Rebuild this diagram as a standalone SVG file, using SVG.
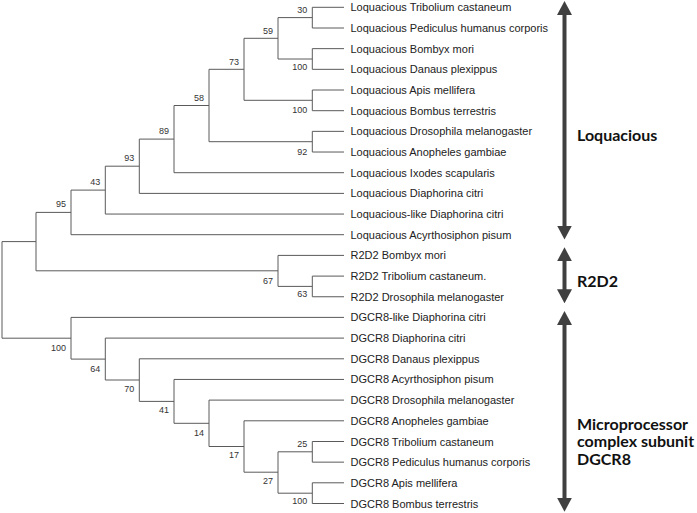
<svg xmlns="http://www.w3.org/2000/svg" width="697" height="513" viewBox="0 0 697 513">
<defs>
<style>
.br{fill:none;stroke:#5a5a5a;stroke-width:1}
.leaf{font-family:"Liberation Sans",Arial,sans-serif;font-size:11px;fill:#222}
.bs{font-family:"Liberation Sans",Arial,sans-serif;font-size:9px;fill:#333;text-anchor:end}
.grp{font-family:Lato,"Open Sans",sans-serif;font-size:16px;font-weight:bold;fill:#111}
.arr{stroke:#404040;stroke-width:4;fill:none}
</style>
<marker id="ah" viewBox="0 0 14 15" markerUnits="userSpaceOnUse" markerWidth="14" markerHeight="15" refX="6" refY="7.5" orient="auto-start-reverse">
<path d="M0,0 L14,7.5 L0,15 z" fill="#404040"/>
</marker>
</defs>
<rect width="697" height="513" fill="#fff"/>
<g id="connectors">
<path class="br" d="M2 241.6 V338.2 M2 241.6 H36 M36 212.4 V270.8
M36 212.4 H71 M71 190.1 V234.7 M71 234.7 H344
M71 190.1 H105.3 M105.3 166.2 V214.05 M105.3 214.05 H344
M105.3 166.2 H139.3 M139.3 139.1 V193.4 M139.3 193.4 H344
M139.3 139.1 H174 M174 105.5 V172.7 M174 172.7 H344
M174 105.5 H209 M209 69.3 V141.7
M209 141.7 H312.3 M312.3 131.35 V152.03 M312.3 131.35 H344 M312.3 152.03 H344
M209 69.3 H244 M244 38.3 V100.3
M244 100.3 H312.3 M312.3 90 V110.7 M312.3 90 H344 M312.3 110.7 H344
M244 38.3 H278 M278 17.6 V59
M278 17.6 H312.3 M312.3 7.3 V28 M312.3 7.3 H344 M312.3 28 H344
M278 59 H312.3 M312.3 48.65 V69.33 M312.3 48.65 H344 M312.3 69.33 H344
M36 270.8 H278 M278 255.4 V286.4 M278 255.4 H344
M278 286.4 H312.3 M312.3 276.1 V296.75 M312.3 276.1 H344 M312.3 296.75 H344
M2 338.2 H71 M71 317.4 V359.1 M71 317.4 H344
M71 359.1 H105.3 M105.3 338.1 V380 M105.3 338.1 H344
M105.3 380 H139.3 M139.3 358.8 V401.4 M139.3 358.8 H344
M139.3 401.4 H174 M174 379.45 V423.3 M174 379.45 H344
M174 423.3 H209 M209 400.1 V446.5 M209 400.1 H344
M209 446.5 H244 M244 420.8 V472.2 M244 420.8 H344
M244 472.2 H278 M278 451.8 V493.2
M278 451.8 H312.3 M312.3 441.5 V462.15 M312.3 441.5 H344 M312.3 462.15 H344
M278 493.2 H312.3 M312.3 482.8 V503.5 M312.3 482.8 H344 M312.3 503.5 H344"/>
<line class="arr" x1="564.5" y1="9" x2="564.5" y2="231.5" marker-start="url(#ah)" marker-end="url(#ah)"/>
<line class="arr" x1="564.5" y1="255.3" x2="564.5" y2="295.3" marker-start="url(#ah)" marker-end="url(#ah)"/>
<line class="arr" x1="564.5" y1="319" x2="564.5" y2="503.7" marker-start="url(#ah)" marker-end="url(#ah)"/>
</g>
<g id="bootstrap">
<text class="bs" x="307.3" y="12.6">30</text>
<text class="bs" x="273" y="34">59</text>
<text class="bs" x="239" y="65">73</text>
<text class="bs" x="204" y="101">58</text>
<text class="bs" x="169" y="134.3">89</text>
<text class="bs" x="134.3" y="161.3">93</text>
<text class="bs" x="100.3" y="185.3">43</text>
<text class="bs" x="66" y="207.3">95</text>
<text class="bs" x="307.3" y="446.6">25</text>
<text class="bs" x="307.3" y="70">100</text>
<text class="bs" x="307.3" y="112.6">100</text>
<text class="bs" x="307.3" y="155">92</text>
<text class="bs" x="273" y="284">67</text>
<text class="bs" x="307.3" y="297.3">63</text>
<text class="bs" x="66" y="350.6">100</text>
<text class="bs" x="100.3" y="371.6">64</text>
<text class="bs" x="134.3" y="392.3">70</text>
<text class="bs" x="169" y="413.3">41</text>
<text class="bs" x="204" y="435.6">14</text>
<text class="bs" x="239" y="458.3">17</text>
<text class="bs" x="273" y="484">27</text>
<text class="bs" x="307.3" y="504.3">100</text>
</g>
<g id="leaves">
<text class="leaf" x="350.5" y="11.3">Loquacious Tribolium castaneum</text>
<text class="leaf" x="350.5" y="32">Loquacious Pediculus humanus corporis</text>
<text class="leaf" x="350.5" y="52.65">Loquacious Bombyx mori</text>
<text class="leaf" x="350.5" y="73.33">Loquacious Danaus plexippus</text>
<text class="leaf" x="350.5" y="94">Loquacious Apis mellifera</text>
<text class="leaf" x="350.5" y="114.7">Loquacious Bombus terrestris</text>
<text class="leaf" x="350.5" y="135.35">Loquacious Drosophila melanogaster</text>
<text class="leaf" x="350.5" y="156.03">Loquacious Anopheles gambiae</text>
<text class="leaf" x="350.5" y="176.7">Loquacious Ixodes scapularis</text>
<text class="leaf" x="350.5" y="197.4">Loquacious Diaphorina citri</text>
<text class="leaf" x="350.5" y="218.05">Loquacious-like Diaphorina citri</text>
<text class="leaf" x="350.5" y="238.7">Loquacious Acyrthosiphon pisum</text>
<text class="leaf" x="350.5" y="259.4">R2D2 Bombyx mori</text>
<text class="leaf" x="350.5" y="280.1">R2D2 Tribolium castaneum.</text>
<text class="leaf" x="350.5" y="300.75">R2D2 Drosophila melanogaster</text>
<text class="leaf" x="350.5" y="321.4">DGCR8-like Diaphorina citri</text>
<text class="leaf" x="350.5" y="342.1">DGCR8 Diaphorina citri</text>
<text class="leaf" x="350.5" y="362.8">DGCR8 Danaus plexippus</text>
<text class="leaf" x="350.5" y="383.45">DGCR8 Acyrthosiphon pisum</text>
<text class="leaf" x="350.5" y="404.1">DGCR8 Drosophila melanogaster</text>
<text class="leaf" x="350.5" y="424.8">DGCR8 Anopheles gambiae</text>
<text class="leaf" x="350.5" y="445.5">DGCR8 Tribolium castaneum</text>
<text class="leaf" x="350.5" y="466.15">DGCR8 Pediculus humanus corporis</text>
<text class="leaf" x="350.5" y="486.8">DGCR8 Apis mellifera</text>
<text class="leaf" x="350.5" y="507.5">DGCR8 Bombus terrestris</text>
</g>
<g id="group-loquacious"><text class="grp" x="577" y="141">Loquacious</text></g>
<g id="group-r2d2"><text class="grp" x="577" y="287">R2D2</text></g>
<g id="group-dgcr8"><text class="grp" x="577" y="429.5">Microprocessor<tspan x="577" y="447">complex subunit</tspan><tspan x="577" y="464.5">DGCR8</tspan></text></g>
</svg>
